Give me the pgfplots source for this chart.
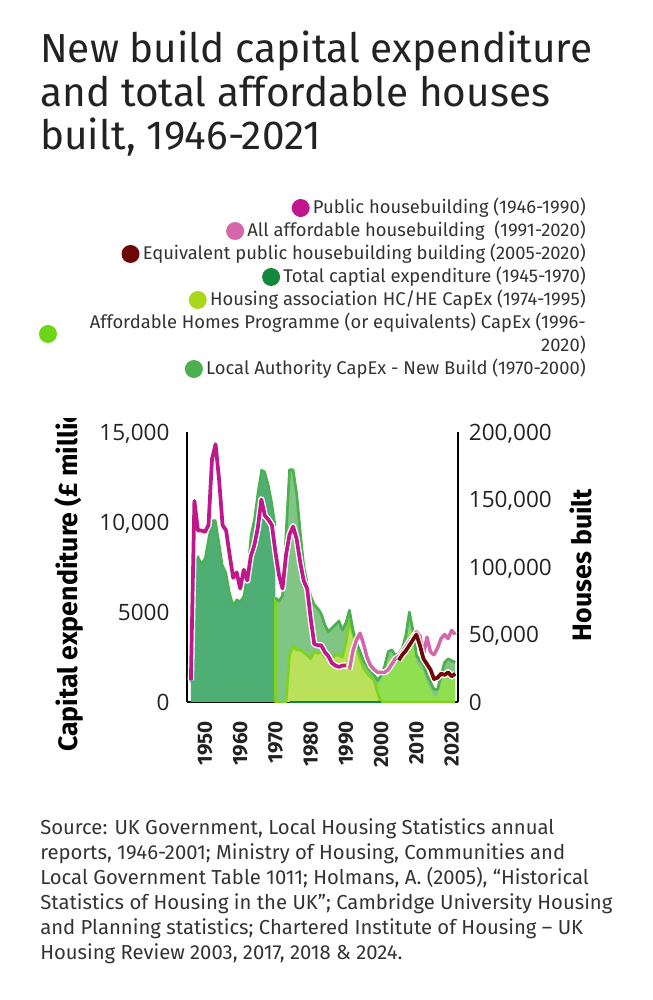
\documentclass[border=0pt]{standalone}
\usepackage{pgfplots}
\pgfplotsset{compat=1.18}
\usepackage{pgfplotstable}
\usetikzlibrary{calc}
\usepackage{fontspec}
\setmainfont{Fira Sans}
\newfontfamily\numfont{Open Sans}

\definecolor{cMag}{HTML}{C0178C}
\definecolor{cPink}{HTML}{D466AA}
\definecolor{cDark}{HTML}{6E0707}
\definecolor{cTot}{HTML}{13883C}
\definecolor{cTotFill}{HTML}{4FAE73}
\definecolor{cLA}{HTML}{4CAF50}
\definecolor{cLAFill}{HTML}{80C584}
\definecolor{cHA}{HTML}{A8D71C}
\definecolor{cHAFill}{HTML}{BAE05C}
\definecolor{cHAline}{HTML}{7ED321}
\definecolor{cAHP}{HTML}{6DD416}
\definecolor{cAHPFill}{HTML}{8FDF50}
\definecolor{cText}{HTML}{222222}
\definecolor{cSrc}{HTML}{333333}

% Capital expenditure, GBP million (left axis)
\pgfplotstableread{
x y
1946 1100
1947 7500
1948 8100
1949 7700
1950 8000
1951 9100
1952 10100
1953 10100
1954 8900
1955 7600
1956 7200
1957 6100
1958 5400
1959 5700
1960 5600
1961 5900
1962 7200
1963 9300
1964 10200
1965 11700
1966 12900
1967 12800
1968 12100
1969 11100
1970 9800
}\tctab

\pgfplotstableread{
x y
1970 5800
1971 5600
1972 5900
1973 9300
1974 12900
1975 12900
1976 11600
1977 9500
1978 7600
1979 6600
1980 5900
1981 5400
1982 5200
1983 4900
1984 4300
1985 3900
1986 4100
1987 4300
1988 4500
1989 4000
1990 4400
1991 5100
1992 4000
1993 3300
1994 2800
1995 2300
1996 2000
1997 1700
1998 1500
1999 1200
2000 1500
2001 2000
2002 2800
2003 2900
2004 2600
2005 2700
2006 3000
2007 3700
2008 5000
2009 4000
2010 2600
2011 2300
2012 2100
2013 1500
2014 1100
2015 700
2016 700
2017 1500
2018 2200
2019 2400
2020 2300
2021 2200
}\latab

\pgfplotstableread{
x y
1970 0
1971 0
1972 0
1973 0
1974 2600
1975 3100
1976 2900
1977 2900
1978 2750
1979 2600
1980 2400
1981 2800
1982 2700
1983 2800
1984 2500
1985 2500
1986 2400
1987 2600
1988 2600
1989 2500
1990 3300
1991 4500
1992 3800
1993 3000
1994 2400
1995 1900
1996 1600
1997 1400
1998 1200
1999 500
2000 0
}\hatab

\pgfplotstableread{
x y
1970 5800
1970 0
1971 0
1972 0
1973 0
1974 2600
1975 3100
1976 2900
1977 2900
1978 2750
1979 2600
1980 2400
1981 2800
1982 2700
1983 2800
1984 2500
1985 2500
1986 2400
1987 2600
1988 2600
1989 2500
1990 3300
1991 4500
1992 3800
1993 3000
1994 2400
1995 1900
1996 1600
1997 1400
1998 1200
1999 500
2000 0
2021 0
}\hastroke

\pgfplotstableread{
x y
1999 1000
2000 1200
2001 1700
2002 2400
2003 2500
2004 2200
2005 2300
2006 2600
2007 3200
2008 4200
2009 3500
2010 2200
2011 1900
2012 1700
2013 1100
2014 700
2015 300
2016 400
2017 1000
2018 1700
2019 1800
2020 1700
2021 1700
}\ahptab

% Houses built (right axis)
\pgfplotstableread{
x y
1946 16000
1947 149000
1948 127000
1949 127000
1950 126000
1951 131000
1952 180000
1953 191000
1954 165000
1955 131000
1956 127000
1957 109000
1958 92000
1959 96000
1960 84000
1961 98000
1962 90000
1963 108000
1964 116000
1965 129000
1966 150000
1967 138000
1968 135000
1969 131000
1970 111000
1971 94000
1972 84000
1973 109000
1974 124000
1975 130000
1976 121000
1977 104000
1978 90000
1979 84000
1980 62000
1981 43000
1982 42000
1983 42000
1984 37000
1985 34000
1986 29000
1987 27000
1988 26000
1989 27000
1990 27000
}\pubtab

\pgfplotstableread{
x y
1991 24000
1992 38000
1993 46000
1994 51000
1995 43000
1996 33000
1997 27000
1998 24000
1999 22000
2000 22000
2001 22000
2002 24000
2003 28000
2004 32000
2005 34000
2006 37000
2007 41000
2008 45000
2009 48000
2010 52000
2011 49000
2012 35000
2013 48000
2014 37000
2015 35000
2016 40000
2017 47000
2018 50000
2019 47000
2020 53000
2021 50000
}\afftab

\pgfplotstableread{
x y
2005 31000
2006 35000
2007 38000
2008 42000
2009 46000
2010 50000
2011 42000
2012 32000
2013 28000
2014 24000
2015 17000
2016 18000
2017 21000
2018 20000
2019 22000
2020 19000
2021 21000
}\eqtab

\newcommand{\tickfont}{\numfont\fontsize{16.9}{20}\selectfont\color{cText}}
\newcommand{\yearfont}{\fontsize{15.5}{18}\selectfont\bfseries\color{cText}}

\begin{document}
\begin{tikzpicture}
\path[use as bounding box] (-140.25pt,-223.5pt) rectangle (349.5pt,526.5pt);

\begin{axis}[
  at={(0,0)}, anchor=south west,
  scale only axis, width=203.25pt, height=202.5pt,
  xmin=1944.9, xmax=2021.8, ymin=0, ymax=15000,
  axis x line*=bottom, axis y line*=left,
  axis line style={line width=2.2pt, black, -},
  major tick length=0pt,
  scaled x ticks=false, scaled y ticks=false,
  xtick={1950,1960,1970,1980,1990,2000,2010,2020},
  xticklabels={1950,1960,1970,1980,1990,2000,2010,2020},
  xticklabel style={rotate=90, anchor=east, inner sep=0pt, font=\yearfont},
  xticklabel shift=14pt,
  ytick={0,5000,10000,15000},
  yticklabels={0,5000,{10,000},{15,000}},
  yticklabel style={anchor=east, inner sep=0pt, text depth=0pt, font=\tickfont},
  yticklabel shift=13pt,
]
\addplot[fill=cTotFill, draw=none] table {\tctab} \closedcycle;
\addplot[fill=cLAFill, draw=none] table {\latab} \closedcycle;
\addplot[fill=cHAFill, draw=none] table {\hatab} \closedcycle;
\addplot[fill=cAHPFill, draw=none] table {\ahptab} \closedcycle;
\addplot[cHAline, line width=2pt, line join=round] table {\hastroke};
\addplot[cLA, line width=2pt, line join=round] table {\latab};
\addplot[cLA, line width=1.4pt, line join=round] table {\tctab};
\addplot[cTot, line width=2.2pt] coordinates {(1974,0) (2000,0)};
\end{axis}

\begin{axis}[
  at={(0,0)}, anchor=south west,
  scale only axis, width=203.25pt, height=202.5pt,
  xmin=1944.9, xmax=2021.8, ymin=0, ymax=200000,
  axis x line=none, axis y line*=right,
  axis line style={line width=2.2pt, black, -},
  major tick length=0pt,
  scaled y ticks=false,
  ytick={0,50000,100000,150000,200000},
  yticklabels={0,{50,000},{100,000},{150,000},{200,000}},
  yticklabel style={anchor=west, inner sep=0pt, text depth=0pt, font=\tickfont},
  yticklabel shift=8pt,
]
\addplot[white, line width=4.8pt, line join=round] table {\pubtab};
\addplot[cMag, line width=2.8pt, line join=round] table {\pubtab};
\addplot[white, line width=4.6pt, line join=round] table {\afftab};
\addplot[cPink, line width=2.6pt, line join=round] table {\afftab};
\addplot[white, line width=4.8pt, line join=round] table {\eqtab};
\addplot[cDark, line width=2.8pt, line join=round] table {\eqtab};
\end{axis}

\begin{scope}[x=0.75pt, y=-0.75pt, shift={(-187,-702)}]
  % title
  \begin{scope}[every node/.style={anchor=base west, inner sep=0pt, text=cText, font=\fontsize{30.4}{35}\selectfont}]
  \node at (40,63) {New build capital expenditure};
  \node at (40,107) {and total affordable houses};
  \node at (40,150) {built, 1946-2021};
  \end{scope}
  % legend
  \begin{scope}[every node/.style={anchor=base east, inner sep=0pt, text=cSrc, font=\fontsize{13.8}{16}\selectfont}]
  \node (t1) at (586,214) {Public housebuilding (1946-1990)};
  \node (t2) at (586,237) {All affordable housebuilding\ \ (1991-2020)};
  \node (t3) at (586,260) {Equivalent public housebuilding building (2005-2020)};
  \node (t4) at (586,283) {Total captial expenditure (1945-1970)};
  \node (t5) at (586,306) {Housing association HC/HE CapEx (1974-1995)};
  \node (t6) at (586,329) {Affordable Homes Programme (or equivalents) CapEx (1996-};
  \node (t6b) at (586,352) {2020)};
  \node (t7) at (586,375) {Local Authority CapEx - New Build (1970-2000)};
  \end{scope}
  \fill[cMag] ($(t1.base west)+(-12,-6)$) circle (9);
  \fill[cPink] ($(t2.base west)+(-12,-6)$) circle (9);
  \fill[cDark] ($(t3.base west)+(-12,-6)$) circle (9);
  \fill[cTot] ($(t4.base west)+(-12,-6)$) circle (9);
  \fill[cHA] ($(t5.base west)+(-12,-6)$) circle (9);
  \fill[cAHP] (48,334) circle (9);
  \fill[cLA] ($(t7.base west)+(-12,-6)$) circle (9);
  % axis titles
  \begin{scope}
    \clip (20,419) rectangle (120,820);
    \node[rotate=90, anchor=west, inner sep=0pt, text=black, font=\fontsize{20}{24}\selectfont\bfseries] at (69,752) {Capital expenditure (£ million)};
  \end{scope}
  \node[rotate=90, anchor=center, inner sep=0pt, text=black, font=\fontsize{20}{24}\selectfont\bfseries] at (581,565) {Houses built};
  % source
  \begin{scope}[every node/.style={anchor=base west, inner sep=0pt, text=cSrc, font=\fontsize{15.2}{18}\selectfont}]
  \node at (40,834) {Source: UK Government, Local Housing Statistics annual};
  \node at (40,859) {reports, 1946-2001; Ministry of Housing, Communities and};
  \node at (40,884) {Local Government Table 1011; Holmans, A. (2005), “Historical};
  \node at (40,909) {Statistics of Housing in the UK”; Cambridge University Housing};
  \node at (40,934) {and Planning statistics; Chartered Institute of Housing – UK};
  \node at (40,959) {Housing Review 2003, 2017, 2018 \& 2024.};
  \end{scope}
\end{scope}
\end{tikzpicture}
\end{document}
